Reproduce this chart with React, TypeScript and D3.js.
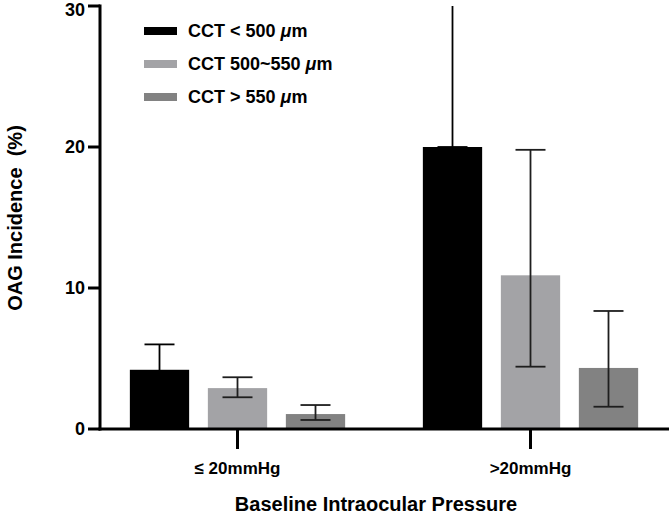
import { useEffect, useRef } from "react";
import * as d3 from "d3";

const categories = ["≤ 20mmHg", ">20mmHg"];
const series = ["CCT < 500", "CCT 500~550", "CCT > 550"];
const colors = ["#000000", "#a3a3a6", "#828282"];
const errColors = ["#000000", "#1e1e1e", "#1e1e1e"];

// incidence (%) per category, one array per series
const means = [
  [4.2, 20.0],
  [2.9, 10.9],
  [1.06, 4.33],
];
const errLow = [
  [2.4, 20.0],
  [2.25, 4.42],
  [0.64, 1.58],
];
const errHigh = [
  [6.0, 36.0],
  [3.67, 19.8],
  [1.7, 8.37],
];
const yTicks = [0, 10, 20, 30];

const W = 669;
const H = 514;
const FONT = "'Liberation Sans', Arial, Helvetica, sans-serif";

export default function App() {
  const svgRef = useRef<SVGSVGElement>(null);

  useEffect(() => {
    if (!svgRef.current) return;
    const svg = d3.select(svgRef.current);
    svg.selectAll("*").remove();

    const axisX = 100;
    const y = d3.scaleLinear().domain([0, 30]).range([429, 6]);
    const x = d3.scaleBand().domain(categories).range([91, 677]).padding(0);
    const xSub = d3
      .scaleBand()
      .domain(series)
      .range([-117, 117])
      .paddingInner(0.24)
      .paddingOuter(0.12);

    svg
      .append("defs")
      .append("clipPath")
      .attr("id", "plotclip")
      .append("rect")
      .attr("x", axisX)
      .attr("y", y(30))
      .attr("width", W - axisX)
      .attr("height", y(0) - y(30));

    const plot = svg.append("g").attr("clip-path", "url(#plotclip)");

    // bars
    series.forEach((s, si) => {
      categories.forEach((c, ci) => {
        const cx = (x(c) as number) + x.bandwidth() / 2;
        const bx = cx + (xSub(s) as number);
        plot
          .append("rect")
          .attr("x", bx)
          .attr("y", y(means[si][ci]))
          .attr("width", xSub.bandwidth())
          .attr("height", y(0) - y(means[si][ci]))
          .attr("fill", colors[si]);
      });
    });

    // error bars
    series.forEach((s, si) => {
      categories.forEach((c, ci) => {
        const cx = (x(c) as number) + x.bandwidth() / 2;
        const ex = cx + (xSub(s) as number) + xSub.bandwidth() / 2;
        const g = plot.append("g").attr("stroke", errColors[si]).attr("stroke-width", 1.8);
        g.append("line")
          .attr("x1", ex)
          .attr("x2", ex)
          .attr("y1", y(errLow[si][ci]))
          .attr("y2", y(errHigh[si][ci]));
        [errLow[si][ci], errHigh[si][ci]].forEach((v) => {
          g.append("line")
            .attr("x1", ex - 15)
            .attr("x2", ex + 15)
            .attr("y1", y(v))
            .attr("y2", y(v));
        });
      });
    });

    // y axis
    svg
      .append("line")
      .attr("x1", axisX)
      .attr("x2", axisX)
      .attr("y1", y(30) - 1.5)
      .attr("y2", y(0) + 1.5)
      .attr("stroke", "#000")
      .attr("stroke-width", 3);
    yTicks.forEach((t) => {
      svg
        .append("line")
        .attr("x1", axisX - 12)
        .attr("x2", axisX)
        .attr("y1", y(t))
        .attr("y2", y(t))
        .attr("stroke", "#000")
        .attr("stroke-width", 3);
      svg
        .append("text")
        .attr("x", axisX - 15)
        .attr("y", Math.max(y(t), 10))
        .attr("dy", "0.36em")
        .attr("text-anchor", "end")
        .attr("font-family", FONT)
        .attr("font-weight", "bold")
        .attr("font-size", 18)
        .text(t);
    });

    // x axis
    svg
      .append("line")
      .attr("x1", axisX - 1.5)
      .attr("x2", W)
      .attr("y1", y(0))
      .attr("y2", y(0))
      .attr("stroke", "#000")
      .attr("stroke-width", 3);
    categories.forEach((c) => {
      const cx = (x(c) as number) + x.bandwidth() / 2;
      svg
        .append("line")
        .attr("x1", cx)
        .attr("x2", cx)
        .attr("y1", y(0))
        .attr("y2", y(0) + 20)
        .attr("stroke", "#000")
        .attr("stroke-width", 3);
      svg
        .append("text")
        .attr("x", cx)
        .attr("y", 474)
        .attr("text-anchor", "middle")
        .attr("font-family", FONT)
        .attr("font-weight", "bold")
        .attr("font-size", 17)
        .text(c);
    });

    // axis titles
    svg
      .append("text")
      .attr("x", 376)
      .attr("y", 511)
      .attr("text-anchor", "middle")
      .attr("font-family", FONT)
      .attr("font-weight", "bold")
      .attr("font-size", 20)
      .text("Baseline Intraocular Pressure");

    svg
      .append("text")
      .attr("transform", `translate(22, 218) rotate(-90)`)
      .attr("text-anchor", "middle")
      .attr("font-family", FONT)
      .attr("font-weight", "bold")
      .attr("font-size", 20)
      .attr("xml:space", "preserve")
      .style("white-space", "pre")
      .text("OAG Incidence  (%)");

    // legend
    const legendY = d3.scalePoint().domain(series).range([31, 97]);
    series.forEach((s, si) => {
      const ly = legendY(s) as number;
      svg
        .append("rect")
        .attr("x", 144)
        .attr("y", ly - 4)
        .attr("width", 33)
        .attr("height", 8)
        .attr("fill", colors[si]);
      const t = svg
        .append("text")
        .attr("x", 188)
        .attr("y", ly)
        .attr("dy", "0.36em")
        .attr("font-family", FONT)
        .attr("font-weight", "bold")
        .attr("font-size", 18);
      t.append("tspan").text(s + " ");
      t.append("tspan").attr("font-style", "italic").text("μ");
      t.append("tspan").text("m");
    });
  }, []);

  return (
    <svg
      ref={svgRef}
      width={W}
      height={H}
      style={{ position: "absolute", left: 0, top: 0, background: "#fff" }}
    />
  );
}
